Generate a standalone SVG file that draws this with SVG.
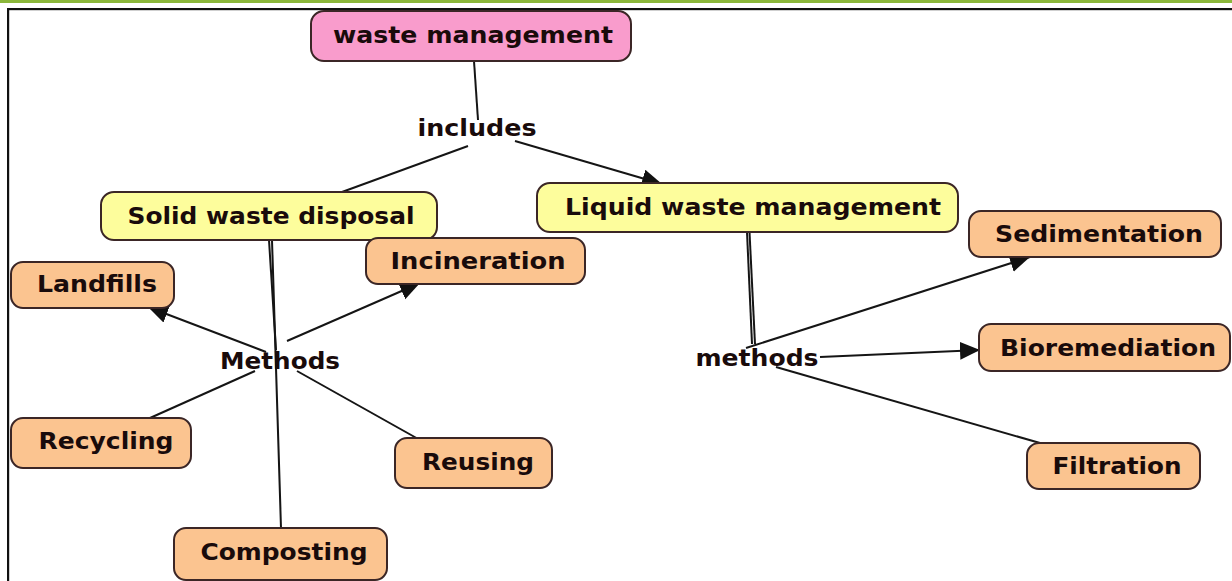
<svg xmlns="http://www.w3.org/2000/svg" width="1232" height="581" viewBox="0 0 1232 581">
  <style>
    .box { stroke: #3b2626; stroke-width: 2; }
    .pink { fill: #f99ccc; }
    .yellow { fill: #fdfd9c; }
    .orange { fill: #fbc490; }
    .lbl { font-family: "DejaVu Sans", Verdana, sans-serif; font-weight: bold; font-size: 22.5px; fill: #190b0b; text-anchor: middle; }
    .link { stroke: #151515; stroke-width: 2; fill: none; }
  </style>
  <defs>
    <marker id="arrow" markerUnits="userSpaceOnUse" markerWidth="22" markerHeight="20" refX="20" refY="9" orient="auto">
      <path d="M0,0 L20,9 L0,18 Z" fill="#111"/>
    </marker>
  </defs>

  <!-- page frame -->
  <rect x="0" y="0" width="1232" height="3" fill="#8bb73b"/>
  <rect x="7" y="8" width="1225" height="2.2" fill="#111"/>
  <rect x="7" y="8" width="2.2" height="573" fill="#111"/>

  <!-- connectors -->
  <g id="connectors">
    <line class="link" x1="474" y1="61" x2="478" y2="120"/>
    <line class="link" x1="468" y1="146" x2="342" y2="192"/>
    <line class="link" x1="515" y1="141" x2="662" y2="184" marker-end="url(#arrow)"/>

    <line class="link" x1="269" y1="240" x2="276" y2="350"/>
    <line class="link" x1="272" y1="240" x2="281" y2="528"/>
    <line class="link" x1="266" y1="352" x2="148" y2="307" marker-end="url(#arrow)"/>
    <line class="link" x1="287" y1="341" x2="420" y2="283" marker-end="url(#arrow)"/>
    <line class="link" x1="255" y1="371" x2="150" y2="418"/>
    <line class="link" x1="297" y1="371" x2="420" y2="440"/>

    <line class="link" x1="747" y1="232" x2="752" y2="344"/>
    <line class="link" x1="749.5" y1="232" x2="755" y2="344"/>
    <line class="link" x1="746" y1="348" x2="1030" y2="257" marker-end="url(#arrow)"/>
    <line class="link" x1="820" y1="357" x2="980" y2="350" marker-end="url(#arrow)"/>
    <line class="link" x1="776" y1="367" x2="1040" y2="443"/>
  </g>

  <g id="waste-management">
    <rect class="box pink" x="311" y="11" width="320" height="50" rx="13"/>
    <text class="lbl" x="473" y="43" textLength="280" lengthAdjust="spacingAndGlyphs">waste management</text>
  </g>

  <g id="includes">
    <text class="lbl" x="477" y="136" textLength="119" lengthAdjust="spacingAndGlyphs">includes</text>
  </g>

  <g id="solid-waste-disposal">
    <rect class="box yellow" x="101" y="192" width="336" height="48" rx="13"/>
    <text class="lbl" x="271" y="224" textLength="287" lengthAdjust="spacingAndGlyphs">Solid waste disposal</text>
  </g>

  <g id="liquid-waste-management">
    <rect class="box yellow" x="537" y="183" width="421" height="49" rx="13"/>
    <text class="lbl" x="753" y="215" textLength="376" lengthAdjust="spacingAndGlyphs">Liquid waste management</text>
  </g>

  <g id="incineration">
    <rect class="box orange" x="366" y="238" width="219" height="46" rx="12"/>
    <text class="lbl" x="478" y="269" textLength="175" lengthAdjust="spacingAndGlyphs">Incineration</text>
  </g>

  <g id="landfills">
    <rect class="box orange" x="11" y="262" width="163" height="46" rx="12"/>
    <text class="lbl" x="97" y="292" textLength="120" lengthAdjust="spacingAndGlyphs">Landfills</text>
  </g>

  <g id="methods-solid">
    <text class="lbl" x="280" y="369" textLength="120" lengthAdjust="spacingAndGlyphs">Methods</text>
  </g>

  <g id="recycling">
    <rect class="box orange" x="11" y="418" width="180" height="50" rx="12"/>
    <text class="lbl" x="106" y="449" textLength="135" lengthAdjust="spacingAndGlyphs">Recycling</text>
  </g>

  <g id="reusing">
    <rect class="box orange" x="395" y="438" width="157" height="50" rx="12"/>
    <text class="lbl" x="478" y="470" textLength="112" lengthAdjust="spacingAndGlyphs">Reusing</text>
  </g>

  <g id="composting">
    <rect class="box orange" x="174" y="528" width="213" height="52" rx="12"/>
    <text class="lbl" x="284" y="560" textLength="167" lengthAdjust="spacingAndGlyphs">Composting</text>
  </g>

  <g id="methods-liquid">
    <text class="lbl" x="757" y="366" textLength="123" lengthAdjust="spacingAndGlyphs">methods</text>
  </g>

  <g id="sedimentation">
    <rect class="box orange" x="969" y="211" width="252" height="46" rx="12"/>
    <text class="lbl" x="1099" y="242" textLength="208" lengthAdjust="spacingAndGlyphs">Sedimentation</text>
  </g>

  <g id="bioremediation">
    <rect class="box orange" x="979" y="324" width="251" height="47" rx="12"/>
    <text class="lbl" x="1108" y="356" textLength="216" lengthAdjust="spacingAndGlyphs">Bioremediation</text>
  </g>

  <g id="filtration">
    <rect class="box orange" x="1027" y="443" width="173" height="46" rx="12"/>
    <text class="lbl" x="1117" y="474" textLength="129" lengthAdjust="spacingAndGlyphs">Filtration</text>
  </g>
</svg>
